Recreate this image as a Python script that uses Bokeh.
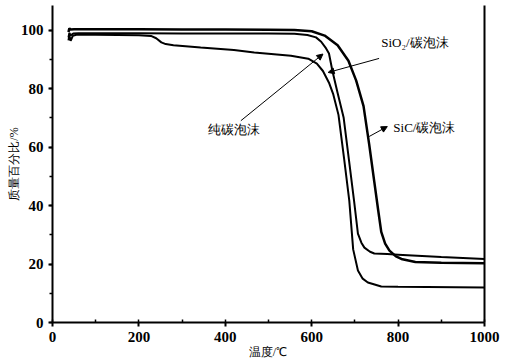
from bokeh.plotting import figure
from bokeh.models import (LinearAxis, SingleIntervalTicker, FixedTicker, Arrow, NormalHead,
                          Range1d, ColumnDataSource)
from bokeh.embed import file_html
from bokeh.resources import INLINE
from bokeh.core.properties import value

# ---- data (temperature in degC, mass percentage) ----
temp_sic = [37, 39, 42, 50, 100, 200, 300, 400, 500, 560, 600, 630, 660, 685, 703, 720,
            733, 745, 754, 761, 770, 780, 795, 810, 840, 900, 1000]
mass_sic = [99.3, 100.6, 100.2, 100.3, 100.3, 100.3, 100.2, 100.2, 100.1, 100.0, 99.6, 98.1,
            94.8, 89.5, 82.7, 74.0, 61.0, 48.0, 38.3, 31.0, 27.0, 24.6, 22.6, 21.6, 20.7,
            20.4, 20.3]

temp_sio2 = [37, 39, 42, 48, 60, 100, 200, 300, 400, 500, 560, 590, 610, 622, 632, 640,
             648, 660, 674, 686, 698, 707, 715, 722, 735, 745, 775, 800, 900, 1000]
mass_sio2 = [97.5, 99.0, 98.2, 98.8, 98.9, 98.9, 98.9, 98.8, 98.8, 98.8, 98.7, 98.3, 97.5,
             96.0, 94.0, 92.0, 86.0, 78.5, 70.0, 55.9, 41.7, 30.4, 27.3, 25.6, 24.2, 23.6,
             23.4, 23.2, 22.4, 21.7]

temp_pure = [37, 39, 42, 47, 55, 100, 150, 200, 228, 240, 252, 262, 280, 343, 420, 467,
             552, 592, 612, 626, 640, 650, 662, 675, 687, 696, 707, 718, 730, 761, 800, 1000]
mass_pure = [96.5, 98.2, 96.3, 98.0, 98.4, 98.4, 98.3, 98.2, 98.0, 97.2, 95.8, 95.2, 94.8,
             94.0, 93.2, 92.3, 91.2, 90.2, 88.5, 86.0, 82.0, 78.0, 71.0, 56.0, 41.7, 25.0,
             17.8, 15.0, 13.7, 12.3, 12.2, 12.0]

x_ticks_interval = 200
y_ticks_interval = 20
x_title = "温度/℃"
y_title = "质量百分比/%"

# annotation texts and arrows (data coordinates)
label_text = ["纯碳泡沫", "SiO₂/碳泡沫", "SiC/碳泡沫"]
label_x = [360, 761, 789]
label_y = [66.0, 95.7, 66.7]
arrow_x0 = [436, 756, 733]
arrow_y0 = [69.0, 90.3, 63.6]
arrow_x1 = [626, 638, 775]
arrow_y1 = [91.8, 85.5, 67.0]

p = figure(width=506, height=364, output_backend="svg", toolbar_location=None,
           x_range=Range1d(0, 1000), y_range=Range1d(0, 108.4),
           min_border_left=52, min_border_right=22, min_border_top=5,
           min_border_bottom=42, background_fill_color="white",
           border_fill_color="white")
p.outline_line_color = None
p.grid.visible = False

tick_font = "Liberation Serif"

xa = p.xaxis[0]
xa.ticker = SingleIntervalTicker(interval=x_ticks_interval, num_minor_ticks=2)
xa.axis_label = x_title
ya = p.yaxis[0]
ya.ticker = SingleIntervalTicker(interval=y_ticks_interval, num_minor_ticks=2)
ya.axis_label = y_title

for ax in (xa, ya):
    ax.axis_line_width = 2
    ax.axis_line_color = "black"
    ax.major_tick_line_width = 2
    ax.minor_tick_line_width = 1.5
    ax.major_tick_out = 4
    ax.major_tick_in = 0
    ax.major_label_text_font = tick_font
    ax.major_label_text_font_style = "bold"
    ax.major_label_text_font_size = "15px"
    ax.major_label_text_color = "black"
    ax.axis_label_text_font = tick_font
    ax.axis_label_text_font_style = "normal"
    ax.axis_label_text_font_size = "12px"
    ax.axis_label_text_color = "black"

xa.major_label_standoff = 5
xa.axis_label_standoff = 0
ya.major_label_standoff = 5
ya.axis_label_standoff = -3

xa.minor_tick_in = 3
xa.minor_tick_out = 0
ya.minor_tick_in = 0
ya.minor_tick_out = 3

right = LinearAxis(ticker=FixedTicker(ticks=[]),
                   major_tick_line_color=None, minor_tick_line_color=None,
                   major_label_standoff=0, axis_line_width=2, axis_line_color="black",
                   major_tick_out=0, major_tick_in=0, minor_tick_out=0, minor_tick_in=0)
p.add_layout(right, "right")

p.line(temp_sic, mass_sic, line_color="black", line_width=2.5)
p.line(temp_sio2, mass_sio2, line_color="black", line_width=2)
p.line(temp_pure, mass_pure, line_color="black", line_width=2)

src = ColumnDataSource(dict(x=label_x, y=label_y, t=label_text))
p.text(x="x", y="y", text="t", source=src, text_font=value("Liberation Serif"),
       text_font_size="13px", text_baseline="middle", text_align="left",
       text_color="black")

for i in range(3):
    p.add_layout(Arrow(end=NormalHead(size=6, fill_color="black", line_color="black"),
                       x_start=arrow_x0[i], y_start=arrow_y0[i],
                       x_end=arrow_x1[i], y_end=arrow_y1[i],
                       line_width=1, line_color="black"))

open("out.html", "w").write(file_html(p, INLINE))
